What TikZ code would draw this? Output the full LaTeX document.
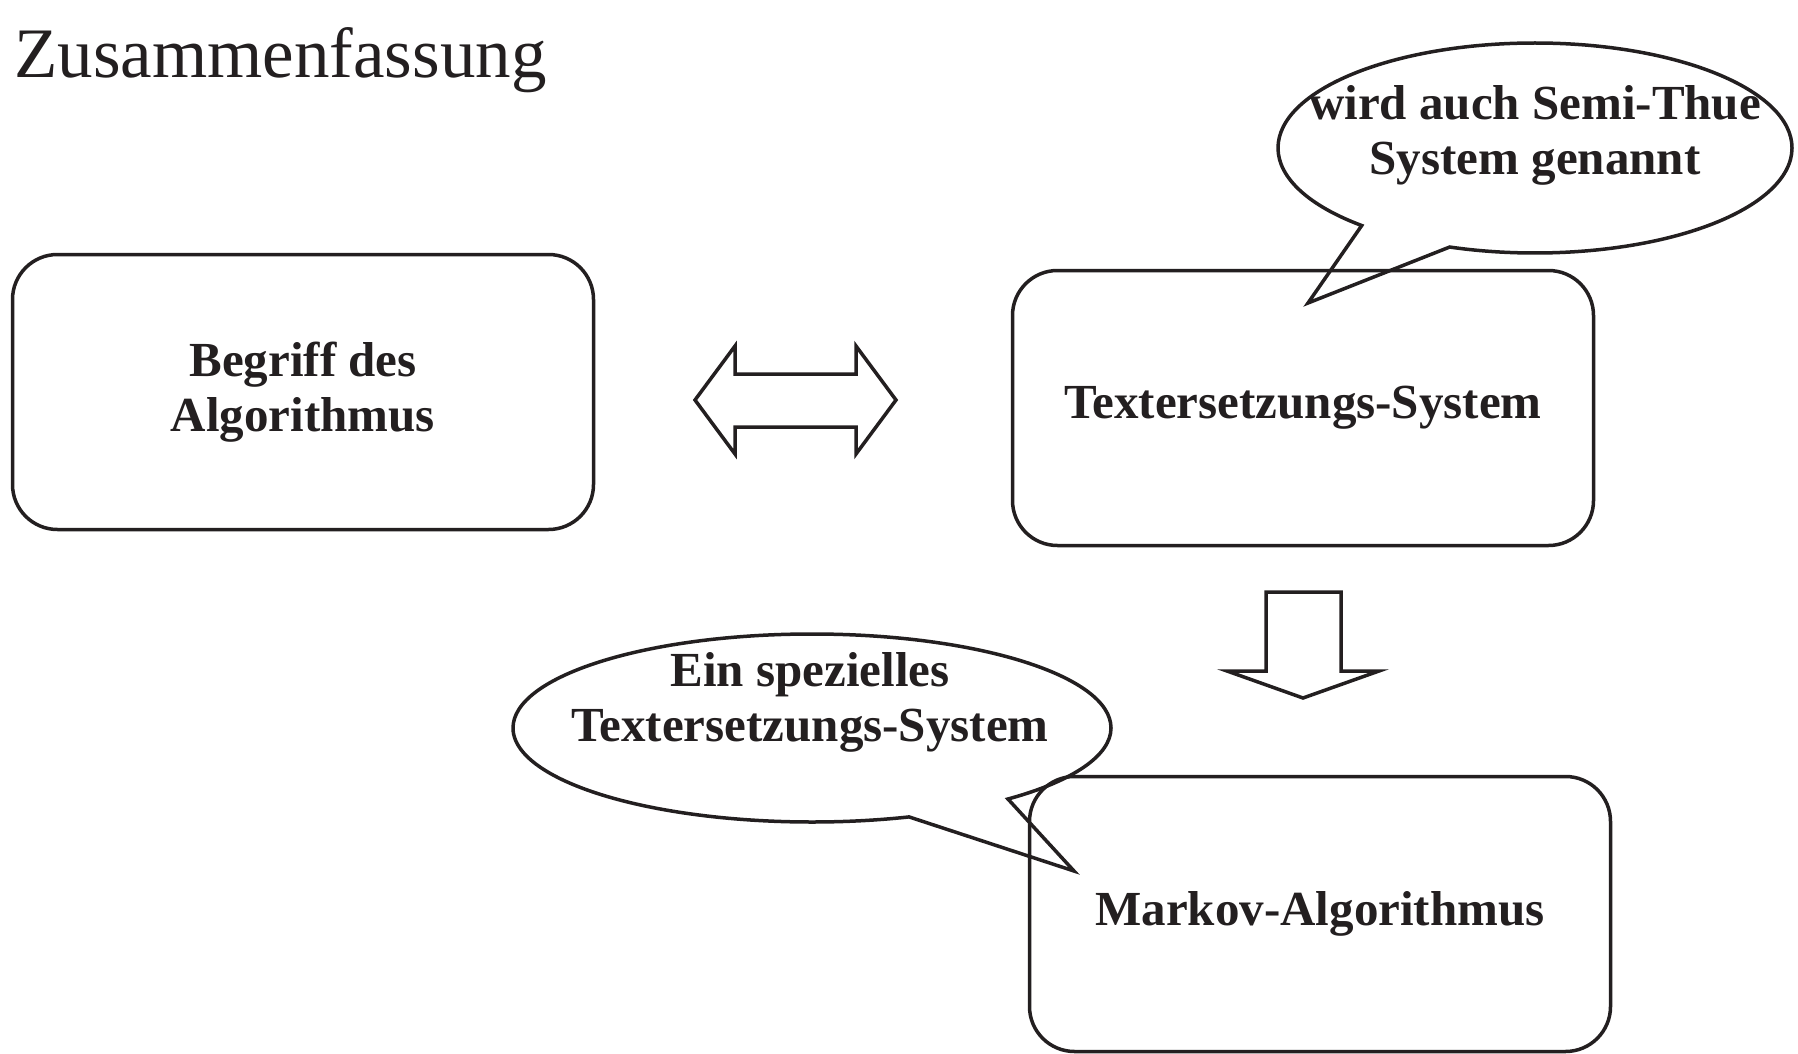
\documentclass[tikz,border=0pt]{standalone}
\usepackage{fontspec}
\setmainfont{Liberation Serif}
\usetikzlibrary{shapes.geometric,shapes.callouts}
\definecolor{ink}{RGB}{35,31,32}

\begin{document}
\begin{tikzpicture}[
    x=1pt, y=-1pt,
    box/.style={draw=ink, line width=3.5pt, rounded corners=45pt,
                minimum width=581pt, minimum height=275pt,
                font=\fontsize{49}{55}\selectfont\bfseries,
                text=ink, align=center},
    bubble/.style={ellipse callout, draw=ink, line width=3.5pt,
                   inner sep=0pt},
    bubbletext/.style={font=\fontsize{49}{55}\selectfont\bfseries,
                       text=ink, align=center, inner sep=0pt},
    blockarrow/.style={draw=ink, line width=3.5pt, line join=miter}
]
\useasboundingbox (0,0) rectangle (1798,1054);

% -- heading --
\node[anchor=base west, inner sep=0pt, text=ink,
      font=\fontsize{71}{80}\selectfont] (title) at (14,78) {Zusammenfassung};

% -- the three boxes --
\node[box] (begriff) at (303,392) {Begriff des\\Algorithmus};
\node[box] (textsys) at (1303,408) {Textersetzungs-System};
\node[box] (markov) at (1320,914) {Markov-Algorithmus};

% -- speech bubbles --
\node[bubble, minimum width=514pt, minimum height=210pt,
      callout absolute pointer={(1308,303)},
      callout pointer arc=23] (semithue) at (1535,148) {};
\node[bubbletext] (semithuetext) at (1535,135) {wird auch Semi-Thue\\System genannt};

\node[bubble, minimum width=598pt, minimum height=188pt,
      callout absolute pointer={(1074,871)},
      callout pointer arc=22] (spezial) at (812,728) {};
\node[bubbletext] (spezialtext) at (810,702) {Ein spezielles\\Textersetzungs-System};

% -- block arrows --
\draw[blockarrow] (695,400) -- (735,346) -- (735,374) -- (856,374)
    -- (856,346) -- (896,400) -- (856,454) -- (856,427) -- (735,427)
    -- (735,454) -- cycle;
\draw[blockarrow] (1266,592) -- (1341,592) -- (1341,671) -- (1379,671)
    -- (1303,698) -- (1227,671) -- (1266,671) -- cycle;

\end{tikzpicture}
\end{document}
